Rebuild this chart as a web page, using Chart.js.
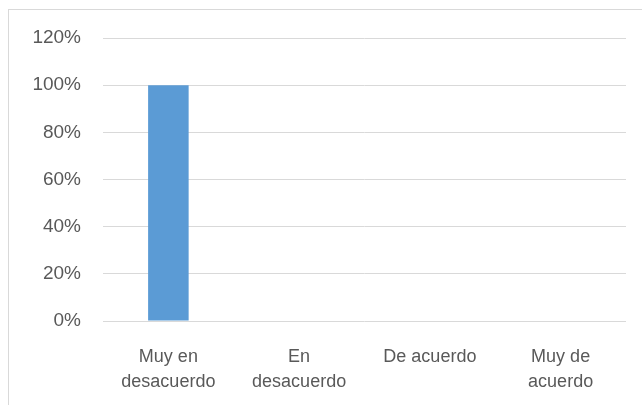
<!DOCTYPE html>
<html><head><meta charset="utf-8">
<script src="https://cdn.jsdelivr.net/npm/chart.js@4"></script>
<style>html,body{margin:0;padding:0;background:#fff;}#wrap{width:642px;height:405px;position:relative;}</style>
</head><body><div id="wrap"><canvas id="c" width="642" height="405"></canvas></div>
<script>
const categories = [["Muy en","desacuerdo"],["En","desacuerdo"],"De acuerdo",["Muy de","acuerdo"]];
const values = [1.00, 0, 0, 0];
const yTicks = [0, 0.2, 0.4, 0.6, 0.8, 1.0, 1.2];

const frame = {id:'frame', beforeDraw(ch){const c=ch.ctx;c.save();c.fillStyle='#fff';c.fillRect(0,0,ch.width,ch.height);c.strokeStyle='#d9d9d9';c.lineWidth=1;c.strokeRect(8.5,9.5,700,500);c.restore();}};

new Chart(document.getElementById('c'), {
  type:'bar',
  data:{labels:categories, datasets:[{data:values, backgroundColor:'#5B9BD5', categoryPercentage:1, barPercentage:0.31}]},
  options:{
    responsive:false, animation:false,
    layout:{padding:{left:0,right:16,top:38,bottom:0}},
    plugins:{legend:{display:false}, tooltip:{enabled:false}},
    scales:{
      x:{grid:{display:false}, border:{display:false},
         ticks:{color:'#595959', font:{family:'Liberation Sans', size:18, lineHeight:1.4}, padding:15, maxRotation:0, autoSkip:false},
         afterFit(s){s.height=84;}},
      y:{min:0,max:1.2, border:{display:false},
         grid:{color:'#d9d9d9', lineWidth:1, drawTicks:false},
         afterBuildTicks(s){s.ticks=yTicks.map(v=>({value:v}));},
         ticks:{color:'#595959', font:{family:'Liberation Sans', size:19}, padding:22, callback:v=>Math.round(v*100)+'%'},
         afterFit(s){s.width=103;}}
    }
  },
  plugins:[frame]
});
</script></body></html>
